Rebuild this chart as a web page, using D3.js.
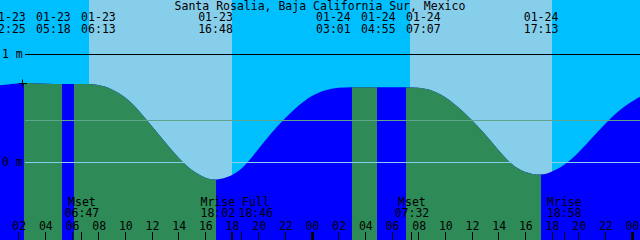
<!DOCTYPE html>
<html>
<head>
<meta charset="utf-8">
<script src="https://cdn.jsdelivr.net/npm/d3@7"></script>
<style>
  html, body { margin: 0; padding: 0; background: #00bfff; }
  svg { display: block; }
  text { font-family: "DejaVu Sans Mono", monospace; font-size: 11.5px; fill: #000; }
</style>
</head>
<body>
<svg id="tide" width="640" height="240"></svg>
<script>
// station + day/night
const title = "Santa Rosalia, Baja California Sur, Mexico";
const sunUp = ["01-23 07:21", "01-24 07:21"];
const sunDown = ["01-23 18:04", "01-24 18:04"];

// tide level, hourly from 01-23 00:00 (metres)
const levelTimes = d3.range(0, 50);
const levels = [
    0.700, 0.716, 0.729, 0.729, 0.726, 0.722, 0.722, 0.722, 0.718, 0.680,
    0.606, 0.488, 0.336, 0.187, 0.039, -0.081, -0.148, -0.169, -0.134, -0.042,
    0.118, 0.272, 0.405, 0.522, 0.615, 0.668, 0.690, 0.693, 0.692, 0.691,
    0.692, 0.693, 0.689, 0.670, 0.609, 0.509, 0.394, 0.261, 0.111, -0.028,
    -0.100, -0.125, -0.093, -0.028, 0.081, 0.219, 0.352, 0.472, 0.560, 0.630
];

// high / low tide events
const eventDates = ["01-23", "01-23", "01-23", "01-23", "01-24", "01-24", "01-24", "01-24"];
const eventTimes = ["02:25", "05:18", "06:13", "16:48", "03:01", "04:55", "07:07", "17:13"];
const eventKinds = ["high", "low", "high", "low", "high", "low", "high", "low"];
const eventLevels = [0.731, 0.721, 0.723, -0.173, 0.694, 0.691, 0.694, -0.126];

// moon events
const moonNames = ["Mset", "Mrise", "Full", "Mset", "Mrise"];
const moonDates = ["01-23", "01-23", "01-23", "01-24", "01-24"];
const moonTimes = ["06:47", "18:02", "18:46", "07:32", "18:58"];

// axis
const hourTicks = d3.range(2, 49, 2);
const levelTicks = [0, 1];
const levelTickLabels = ["0 m", "1 m"];
const meanLevel = 0.386;

const parse = d3.utcParse("%Y-%m-%d %H:%M");
const toDate = s => parse("2016-" + s);
const hoursFrom = d => (d - toDate("01-23 00:00")) / 3600000;

let svg = d3.select("#tide");
const W = 640, H = 240;

let x = d3.scaleLinear().domain([0, 48]).range([-8.5, 631.5]);
let y = d3.scaleLinear().domain([0, 1]).range([162, 54]);

// background: night then day bands
svg.append("rect").attr("width", W).attr("height", H).attr("fill", "#00bfff");
svg.selectAll(".day")
    .data(sunUp.map((s, i) => [hoursFrom(toDate(s)), hoursFrom(toDate(sunDown[i]))]))
    .enter().append("rect")
    .attr("class", "day")
    .attr("x", d => Math.round(x(d[0])))
    .attr("width", d => Math.round(x(d[1])) - Math.round(x(d[0])))
    .attr("y", 0).attr("height", H)
    .attr("fill", "#87ceeb")
    .attr("shape-rendering", "crispEdges");

// tide curve
let events = eventTimes.map((t, i) => ({
    h: hoursFrom(toDate(eventDates[i] + " " + t)),
    level: eventLevels[i], kind: eventKinds[i],
    label: eventDates[i], time: t
}));
let pts = levelTimes.map((h, i) => ({ h: h, level: levels[i] }))
    .filter(p => !events.some(e => Math.abs(e.h - p.h) < 0.4))
    .concat(events.map(e => ({ h: e.h, level: e.level })))
    .sort((a, b) => a.h - b.h);

let area = d3.area()
    .x(d => x(d.h))
    .y0(H)
    .y1(d => y(d.level))
    .curve(d3.curveBasis);

svg.append("clipPath").attr("id", "water")
    .append("path").datum(pts).attr("d", area);

let water = svg.append("g").attr("clip-path", "url(#water)");
water.append("rect").attr("width", W).attr("height", H).attr("fill", "#0000ff");

// falling tide (high -> next low) in green
let falling = [];
events.forEach((e, i) => {
    if (e.kind === "high" && events[i + 1]) falling.push([e.h, events[i + 1].h]);
});
water.selectAll(".ebb")
    .data(falling)
    .enter().append("rect")
    .attr("class", "ebb")
    .attr("x", d => Math.round(x(d[0])))
    .attr("width", d => Math.round(x(d[1])) - Math.round(x(d[0])))
    .attr("y", 0).attr("height", H)
    .attr("fill", "#2e8b57")
    .attr("shape-rendering", "crispEdges");

// level lines
svg.append("line")
    .attr("x1", 25).attr("x2", W)
    .attr("y1", Math.round(y(meanLevel)) + 0.5).attr("y2", Math.round(y(meanLevel)) + 0.5)
    .attr("stroke", "#5ea58e");
svg.append("line")
    .attr("x1", 25).attr("x2", W)
    .attr("y1", y(0) + 0.5).attr("y2", y(0) + 0.5)
    .attr("stroke", "#87ceeb");
svg.append("line")
    .attr("x1", 25).attr("x2", W)
    .attr("y1", y(1) + 0.5).attr("y2", y(1) + 0.5)
    .attr("stroke", "#000");

svg.selectAll(".ylab")
    .data(levelTicks)
    .enter().append("text")
    .attr("class", "ylab")
    .attr("x", 2)
    .attr("y", d => y(d) + 3.5)
    .text((d, i) => levelTickLabels[i]);

// marker at first high
let mx = Math.round(x(events[0].h)) - 1.5, my = Math.round(y(events[0].level)) + 0.5;
svg.append("path")
    .attr("d", "M" + (mx - 3.5) + "," + my + "h8M" + mx + "," + (my - 4) + "v8")
    .attr("stroke", "#000");

// spread crowded labels apart around their mean
function spread(xs, gap) {
    let out = xs.map(v => [v]);
    let moved = true;
    while (moved) {
        moved = false;
        for (let i = 0; i < out.length - 1; i++) {
            let a = out[i], b = out[i + 1];
            let aEnd = d3.mean(a) + (a.length - 1) * gap / 2;
            let bStart = d3.mean(b) - (b.length - 1) * gap / 2;
            if (bStart - aEnd < gap) {
                out.splice(i, 2, a.concat(b));
                moved = true;
                break;
            }
        }
    }
    let pos = [];
    out.forEach(c => {
        let m = d3.mean(c);
        c.forEach((v, j) => pos.push(m + (j - (c.length - 1) / 2) * gap));
    });
    return pos;
}

// top texts
svg.append("text")
    .attr("x", W / 2).attr("y", 9.5)
    .attr("text-anchor", "middle")
    .text(title);

let topX = spread(events.map(e => x(e.h)), 45);
let evLabels = svg.selectAll(".ev").data(events).enter().append("g").attr("class", "ev");
evLabels.append("text")
    .attr("x", (d, i) => topX[i]).attr("y", 21)
    .attr("text-anchor", "middle")
    .text(d => d.label);
evLabels.append("text")
    .attr("x", (d, i) => topX[i]).attr("y", 33)
    .attr("text-anchor", "middle")
    .text(d => d.time);

// bottom axis
let axis = svg.append("g");
axis.selectAll(".tick")
    .data(hourTicks)
    .enter().append("rect")
    .attr("x", d => Math.round(x(d)) - (d % 24 === 0 ? 1 : 0))
    .attr("y", 232)
    .attr("width", d => d % 24 === 0 ? 3 : 1)
    .attr("height", 8)
    .attr("fill", "#000")
    .attr("shape-rendering", "crispEdges");
axis.selectAll(".hlab")
    .data(hourTicks)
    .enter().append("text")
    .attr("x", d => x(d) + 1)
    .attr("y", 230)
    .attr("text-anchor", "middle")
    .text(d => d3.format("02")(d % 24));

// moon events
let moon = moonNames.map((n, i) => ({ name: n, time: moonTimes[i], h: hoursFrom(toDate(moonDates[i] + " " + moonTimes[i])) }));
let moonX = spread(moon.map(m => x(m.h)), 38);
axis.selectAll(".mtick")
    .data(moon)
    .enter().append("rect")
    .attr("x", d => Math.floor(x(d.h)))
    .attr("y", 232).attr("width", 1).attr("height", 8)
    .attr("fill", "#000")
    .attr("shape-rendering", "crispEdges");
axis.selectAll(".mname")
    .data(moon)
    .enter().append("text")
    .attr("x", (d, i) => moonX[i]).attr("y", 206)
    .attr("text-anchor", "middle")
    .text(d => d.name);
axis.selectAll(".mtime")
    .data(moon)
    .enter().append("text")
    .attr("x", (d, i) => moonX[i]).attr("y", 217)
    .attr("text-anchor", "middle")
    .text(d => d.time);
</script>
</body>
</html>
